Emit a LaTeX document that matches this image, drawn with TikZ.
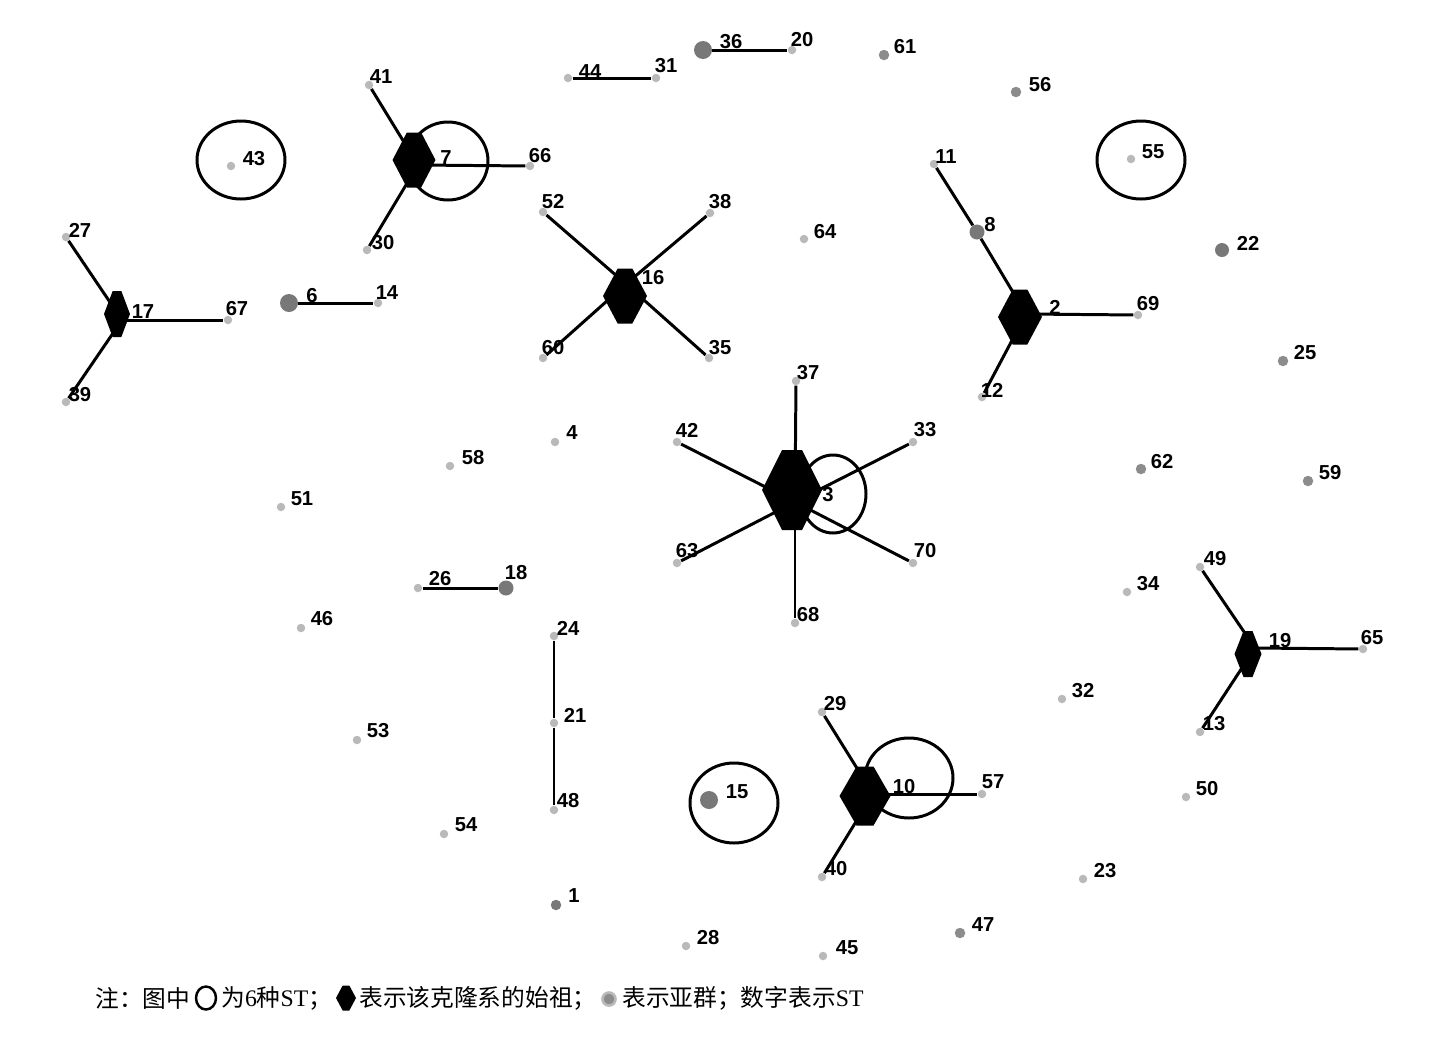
\documentclass[tikz,border=0pt]{standalone}
\usepackage{fontspec}
\usepackage{tikz}
\setmainfont{Liberation Serif}
\newfontfamily\numfont{Liberation Sans}
\newfontfamily\cjk{Noto Sans CJK SC}
\usetikzlibrary{positioning}
\definecolor{dotgray}{RGB}{185,185,185}
\definecolor{midgray}{RGB}{140,140,140}
\definecolor{biggray}{RGB}{120,120,120}
% founder hexagon: centre x, centre y, half width, half height
\newcommand{\founder}[4]{\fill[black,shift={(#1,#2)}] (-#3,0) -- ({-#3/3},-#4) -- ({#3/3},-#4) -- (#3,0) -- ({#3/3},#4) -- ({-#3/3},#4) -- cycle;}

\begin{document}
\begin{tikzpicture}[x=0.02cm, y=-0.02cm,
    dot/.style={circle, fill=dotgray, inner sep=0pt, minimum size=0.17cm},
    middot/.style={circle, fill=midgray, inner sep=0pt, minimum size=0.21cm},
    bigdot/.style={circle, fill=biggray, inner sep=0pt, minimum size=0.36cm},
    num/.style={font=\numfont\bfseries\fontsize{11.5pt}{13pt}\selectfont, inner sep=0pt},
    link/.style={line width=1.7pt},
    stset/.style={line width=1.7pt},
    note/.style={font=\fontsize{13.5pt}{16pt}\selectfont, inner sep=0pt, anchor=west}]
    \useasboundingbox (0,0) rectangle (1438,1039);

    % ST sets
    \draw[stset] (241,160) ellipse [x radius=44, y radius=39];
    \draw[stset] (448,161) ellipse [x radius=40, y radius=39];
    \draw[stset] (1141,160) ellipse [x radius=44, y radius=39];
    \draw[stset] (833,494) ellipse [x radius=33, y radius=39];
    \draw[stset] (734,803) ellipse [x radius=44, y radius=40];
    \draw[stset] (909,778) ellipse [x radius=44, y radius=40];

    % Hubs of the clonal complexes
    \coordinate (h17) at (122,320);
    \coordinate (h7) at (418,165);
    \coordinate (h16) at (626,284);
    \coordinate (h2) at (1026,314);
    \coordinate (h3) at (795,502);
    \coordinate (h19) at (1255,648);
    \coordinate (h10) at (873,794);

    % STs
    \node[dot] (s43) at (231,166) {};
    \node[dot] (s41) at (369,85) {};
    \node[dot] (s66) at (530,166) {};
    \node[dot] (s30) at (367,250) {};
    \node[dot] (s27) at (66,237) {};
    \node[dot] (s67) at (228,320) {};
    \node[dot] (s39) at (66,402) {};
    \node[bigdot] (s6) at (289,303) {};
    \node[dot] (s14) at (378,303) {};
    \node[dot] (s44) at (568,78) {};
    \node[dot] (s31) at (656,78) {};
    \node[bigdot] (s36) at (703,50) {};
    \node[dot] (s20) at (792,50) {};
    \node[middot] (s61) at (884,55) {};
    \node[middot] (s56) at (1016,92) {};
    \node[dot] (s55) at (1131,159) {};
    \node[dot] (s11) at (934,164) {};
    \node[bigdot, minimum size=0.3cm] (s8) at (977,232) {};
    \node[dot] (s12) at (982,397) {};
    \node[dot] (s69) at (1138,315) {};
    \node[bigdot, minimum size=0.28cm] (s22) at (1222,250) {};
    \node[middot] (s25) at (1283,361) {};
    \node[dot] (s52) at (543,212) {};
    \node[dot] (s38) at (710,213) {};
    \node[dot] (s60) at (543,358) {};
    \node[dot] (s35) at (709,358) {};
    \node[dot] (s64) at (804,239) {};
    \node[dot] (s37) at (796,381) {};
    \node[dot] (s42) at (677,442) {};
    \node[dot] (s33) at (913,442) {};
    \node[dot] (s63) at (677,563) {};
    \node[dot] (s70) at (913,563) {};
    \node[dot] (s68) at (795,623) {};
    \node[dot] (s4) at (555,442) {};
    \node[dot] (s58) at (450,466) {};
    \node[dot] (s51) at (281,507) {};
    \node[dot] (s26) at (418,588) {};
    \node[bigdot, minimum size=0.3cm] (s18) at (506,588) {};
    \node[dot] (s46) at (301,628) {};
    \node[dot] (s24) at (554,636) {};
    \node[dot] (s21) at (554,723) {};
    \node[dot] (s48) at (554,810) {};
    \node[dot] (s53) at (357,740) {};
    \node[dot] (s54) at (444,834) {};
    \node[middot, fill=biggray] (s1) at (556,905) {};
    \node[bigdot] (s15) at (709,800) {};
    \node[dot] (s29) at (822,712) {};
    \node[dot] (s57) at (982,794) {};
    \node[dot] (s40) at (822,877) {};
    \node[dot] (s28) at (686,946) {};
    \node[dot] (s45) at (823,956) {};
    \node[middot] (s47) at (960,933) {};
    \node[dot] (s23) at (1083,879) {};
    \node[middot] (s62) at (1141,469) {};
    \node[middot] (s59) at (1308,481) {};
    \node[dot] (s49) at (1200,567) {};
    \node[dot] (s34) at (1127,592) {};
    \node[dot] (s65) at (1363,649) {};
    \node[dot] (s32) at (1062,699) {};
    \node[dot] (s13) at (1200,732) {};
    \node[dot] (s50) at (1186,797) {};

    % Connections
    \draw[link] (h17) -- (s27);
    \draw[link] (h17) -- (s39);
    \draw[link] (h17) -- (s67);
    \draw[link] (h7) -- (s41);
    \draw[link] (h7) -- (s30);
    \draw[link] (h7) -- (s66);
    \draw[link] (s6) -- (s14);
    \draw[link] (s44) -- (s31);
    \draw[link] (s36) -- (s20);
    \draw[link] (h16) -- (s52);
    \draw[link] (h16) -- (s38);
    \draw[link] (h16) -- (s60);
    \draw[link] (h16) -- (s35);
    \draw[link] (h2) -- (s8);
    \draw[link] (s8) -- (s11);
    \draw[link] (h2) -- (s12);
    \draw[link] (h2) -- (s69);
    \draw[link] (h3) -- (s37);
    \draw[link] (h3) -- (s68);
    \draw[link] (h3) -- (s42);
    \draw[link] (h3) -- (s33);
    \draw[link] (h3) -- (s63);
    \draw[link] (h3) -- (s70);
    \draw[link] (s26) -- (s18);
    \draw[link] (s24) -- (s21);
    \draw[link] (s21) -- (s48);
    \draw[link] (h10) -- (s29);
    \draw[link] (h10) -- (s40);
    \draw[link] (h10) -- (s57);
    \draw[link] (h19) -- (s49);
    \draw[link] (h19) -- (s13);
    \draw[link] (h19) -- (s65);

    % Founders
    \founder{117}{314}{13}{23}
    \founder{414}{160}{21.5}{27.5}
    \founder{625}{296}{22}{27.5}
    \founder{1020}{317}{22}{27.5}
    \founder{792}{490}{30}{40}
    \founder{1248}{654}{13.5}{23}
    \founder{865}{796}{25.5}{29.5}

    % ST numbers
    \node[num] (l43) at (254,159) {43};
    \node[num] (l41) at (381,77) {41};
    \node[num] (l7) at (446,158) {7};
    \node[num] (l66) at (540,156) {66};
    \node[num] (l30) at (383,243) {30};
    \node[num] (l27) at (80,230) {27};
    \node[num] (l17) at (143,312) {17};
    \node[num] (l67) at (237,309) {67};
    \node[num] (l39) at (80,395) {39};
    \node[num] (l6) at (312,296) {6};
    \node[num] (l14) at (387,293) {14};
    \node[num] (l44) at (590,72) {44};
    \node[num] (l31) at (666,66) {31};
    \node[num] (l36) at (731,42) {36};
    \node[num] (l20) at (802,40) {20};
    \node[num] (l61) at (905,47) {61};
    \node[num] (l56) at (1040,85) {56};
    \node[num] (l55) at (1153,152) {55};
    \node[num] (l11) at (946,157) {11};
    \node[num] (l8) at (990,225) {8};
    \node[num] (l2) at (1055,307) {2};
    \node[num] (l69) at (1148,304) {69};
    \node[num] (l12) at (992,390) {12};
    \node[num] (l22) at (1248,243) {22};
    \node[num] (l25) at (1305,353) {25};
    \node[num] (l52) at (553,202) {52};
    \node[num] (l38) at (720,202) {38};
    \node[num] (l16) at (653,278) {16};
    \node[num] (l60) at (553,348) {60};
    \node[num] (l35) at (720,348) {35};
    \node[num] (l64) at (825,232) {64};
    \node[num] (l37) at (808,373) {37};
    \node[num] (l42) at (687,430) {42};
    \node[num] (l33) at (925,430) {33};
    \node[num] (l3) at (828,495) {3};
    \node[num] (l63) at (687,551) {63};
    \node[num] (l70) at (925,551) {70};
    \node[num] (l68) at (808,615) {68};
    \node[num] (l4) at (572,433) {4};
    \node[num] (l58) at (473,458) {58};
    \node[num] (l51) at (302,499) {51};
    \node[num] (l26) at (440,579) {26};
    \node[num] (l18) at (516,573) {18};
    \node[num] (l46) at (322,619) {46};
    \node[num] (l24) at (568,628) {24};
    \node[num] (l21) at (575,715) {21};
    \node[num] (l48) at (568,801) {48};
    \node[num] (l53) at (378,731) {53};
    \node[num] (l54) at (466,825) {54};
    \node[num] (l1) at (574,896) {1};
    \node[num] (l15) at (737,792) {15};
    \node[num] (l29) at (835,704) {29};
    \node[num] (l10) at (904,787) {10};
    \node[num] (l57) at (993,782) {57};
    \node[num] (l40) at (836,869) {40};
    \node[num] (l28) at (708,938) {28};
    \node[num] (l45) at (847,948) {45};
    \node[num] (l47) at (983,925) {47};
    \node[num] (l23) at (1105,871) {23};
    \node[num] (l62) at (1162,462) {62};
    \node[num] (l59) at (1330,473) {59};
    \node[num] (l49) at (1215,559) {49};
    \node[num] (l34) at (1148,584) {34};
    \node[num] (l19) at (1280,641) {19};
    \node[num] (l65) at (1372,638) {65};
    \node[num] (l32) at (1083,691) {32};
    \node[num] (l13) at (1214,724) {13};
    \node[num] (l50) at (1207,789) {50};

    % Note
    \node[note] (note1) at (95,998) {\cjk 注：图中};
    \draw[line width=1.4pt] (206,998) ellipse [x radius=10, y radius=11.5];
    \node[note] (note2) at (221,998) {{\cjk 为}6{\cjk 种}ST{\cjk ；}};
    \founder{346}{998}{10}{12.5}
    \node[note] (note3) at (359,998) {\cjk 表示该克隆系的始祖；};
    \node[circle, fill=midgray, draw=dotgray, line width=1.5pt, inner sep=0pt, minimum size=0.26cm] (key) at (609,999) {};
    \node[note] (note4) at (622,998) {{\cjk 表示亚群；数字表示}ST};
\end{tikzpicture}
\end{document}
